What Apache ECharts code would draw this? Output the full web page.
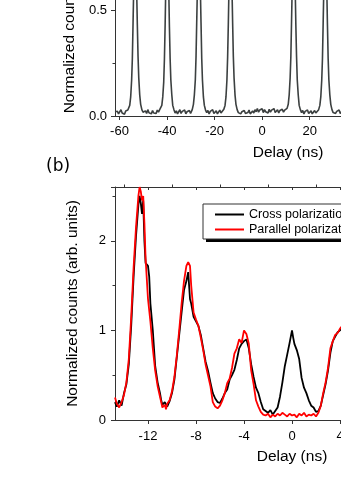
<!DOCTYPE html>
<html>
<head>
<meta charset="utf-8">
<script src="https://cdn.jsdelivr.net/npm/echarts@6/dist/echarts.min.js"></script>
<style>
html, body { margin: 0; padding: 0; background: #fff; }
#divChart { width: 341px; height: 481px; }
</style>
</head>
<body>
<div id="divChart"></div>
<script>
// panel (a): wide delay histogram, [delay ns, counts]
var arrPanelA = [
    [-61.9,0.02],[-61.4,0.012],[-60.9,0.022],[-60.4,0.01],[-59.9,0.018],[-59.4,0.03],[-58.9,0.014],[-58.4,0.02],[-57.9,0.008],[-57.4,0.024],[-56.9,0.016],[-56.5,0.028],
    [-56.2,0.03],[-55.7,0.05],[-55.3,0.09],[-54.9,0.17],[-54.6,0.27],[-54.3,0.44],[-54.0,0.62],[-53.7,0.84],[-53.4,0.98],[-53.1,0.83],[-52.8,0.6],[-52.5,0.43],[-52.2,0.28],[-51.9,0.18],[-51.5,0.1],[-51.1,0.055],[-50.6,0.03],
    [-50.1,0.018],[-49.6,0.01],[-49.1,0.024],[-48.6,0.012],[-48.1,0.03],[-47.6,0.015],[-47.1,0.022],[-46.6,0.01],[-46.1,0.026],[-45.6,0.014],[-45.1,0.02],[-44.6,0.012],[-44.1,0.028],[-43.6,0.018],[-43.1,0.03],
    [-42.7,0.032],[-42.2,0.05],[-41.8,0.09],[-41.4,0.16],[-41.1,0.27],[-40.8,0.43],[-40.5,0.63],[-40.2,0.85],[-39.9,1.0],[-39.6,0.82],[-39.3,0.61],[-39.0,0.42],[-38.7,0.27],[-38.4,0.17],[-38.0,0.1],[-37.6,0.05],[-37.1,0.03],
    [-36.6,0.014],[-36.1,0.024],[-35.6,0.01],[-35.1,0.02],[-34.6,0.03],[-34.1,0.012],[-33.6,0.022],[-33.1,0.015],[-32.6,0.028],[-32.1,0.01],[-31.6,0.02],[-31.1,0.016],[-30.6,0.026],[-30.1,0.012],
    [-29.4,0.03],[-28.9,0.055],[-28.5,0.1],[-28.1,0.17],[-27.8,0.28],[-27.5,0.45],[-27.2,0.62],[-26.9,0.83],[-26.6,0.97],[-26.3,0.84],[-26.0,0.61],[-25.7,0.44],[-25.4,0.27],[-25.1,0.17],[-24.7,0.09],[-24.3,0.05],[-23.8,0.028],
    [-23.3,0.016],[-22.8,0.026],[-22.3,0.01],[-21.8,0.022],[-21.3,0.014],[-20.8,0.03],[-20.3,0.012],[-19.8,0.02],[-19.3,0.024],[-18.8,0.01],[-18.3,0.018],[-17.8,0.028],[-17.3,0.014],[-16.8,0.022],
    [-16.1,0.032],[-15.6,0.05],[-15.2,0.09],[-14.8,0.17],[-14.5,0.28],[-14.2,0.44],[-13.9,0.63],[-13.6,0.84],[-13.3,0.99],[-13.0,0.85],[-12.7,0.62],[-12.4,0.44],[-12.1,0.28],[-11.8,0.18],[-11.4,0.1],[-11.0,0.055],[-10.5,0.03],
    [-10.0,0.016],[-9.5,0.024],[-9.0,0.01],[-8.5,0.02],[-8.0,0.014],[-7.5,0.026],[-7.0,0.012],[-6.5,0.02],[-6.0,0.016],[-5.5,0.028],[-5.0,0.01],[-4.5,0.018],[-4.0,0.024],[-3.5,0.014],[-3.0,0.03],[-2.5,0.02],[-2.0,0.035],[-1.5,0.018],[-1.0,0.028],[-0.5,0.022],
    [0.0,0.034],[0.5,0.016],[1.0,0.03],[1.5,0.02],[2.0,0.026],[2.5,0.014],[3.0,0.032],[3.5,0.018],[4.0,0.028],[4.5,0.02],[5.0,0.035],[5.5,0.016],[6.0,0.024],[6.5,0.03],[7.0,0.014],[7.5,0.026],[8.0,0.02],[8.5,0.032],[9.0,0.018],[9.5,0.028],[10.0,0.03],
    [10.5,0.036],[11.0,0.055],[11.4,0.1],[11.8,0.18],[12.1,0.28],[12.4,0.45],[12.7,0.63],[13.0,0.84],[13.3,0.99],[13.6,0.85],[13.9,0.62],[14.2,0.43],[14.5,0.28],[14.8,0.17],[15.2,0.1],[15.6,0.05],[16.1,0.03],
    [16.6,0.016],[17.1,0.026],[17.6,0.01],[18.1,0.022],[18.6,0.014],[19.1,0.028],[19.6,0.012],[20.1,0.02],[20.6,0.024],[21.1,0.01],[21.6,0.018],[22.1,0.026],[22.6,0.014],[23.1,0.022],
    [23.8,0.03],[24.3,0.05],[24.7,0.09],[25.1,0.17],[25.4,0.27],[25.7,0.44],[26.0,0.62],[26.3,0.84],[26.6,0.98],[26.9,0.83],[27.2,0.61],[27.5,0.43],[27.8,0.27],[28.1,0.17],[28.5,0.1],[28.9,0.055],[29.4,0.03],
    [29.9,0.016],[30.4,0.024],[30.9,0.012],[31.4,0.022],[31.9,0.018],[32.4,0.028],[32.9,0.012],[33.4,0.02],[33.9,0.026],[34.4,0.014],[34.9,0.022],[35.4,0.016],[35.9,0.028],[36.4,0.02],
    [37.1,0.03],[37.6,0.05],[38.0,0.1],[38.4,0.17],[38.7,0.28],[39.0,0.44],[39.3,0.62],[39.6,0.84],[39.9,0.98],[40.2,0.83],[40.5,0.6],[40.8,0.43],[41.1,0.27],[41.4,0.17],[41.8,0.1],[42.2,0.05],[42.7,0.03],[43.2,0.018]
];

// panel (b): zoom on the central peaks
var arrCross = [
    [-14.75,0.2],[-14.6,0.15],[-14.4,0.22],[-14.2,0.16],[-14.0,0.3],[-13.8,0.4],[-13.6,0.62],[-13.4,1.05],[-13.2,1.6],[-13.0,2.05],[-12.8,2.4],[-12.7,2.5],[-12.6,2.42],[-12.5,2.3],[-12.4,2.45],[-12.3,2.0],[-12.2,1.75],[-12.0,1.72],[-11.9,1.6],[-11.8,1.3],
    [-11.6,1.0],[-11.4,0.6],[-11.2,0.42],[-11.0,0.3],[-10.9,0.22],[-10.8,0.17],[-10.6,0.2],[-10.4,0.15],[-10.2,0.21],[-10.0,0.3],[-9.8,0.45],[-9.6,0.7],[-9.4,0.95],[-9.2,1.2],[-9.0,1.45],[-8.8,1.55],[-8.65,1.65],[-8.5,1.35],[-8.4,1.3],[-8.2,1.15],
    [-8.0,1.1],[-7.8,1.05],[-7.6,0.95],[-7.4,0.8],[-7.2,0.65],[-7.0,0.55],[-6.8,0.42],[-6.6,0.3],[-6.4,0.24],[-6.2,0.2],[-6.0,0.19],[-5.8,0.24],[-5.6,0.3],[-5.4,0.34],[-5.2,0.45],[-5.0,0.5],[-4.8,0.56],[-4.6,0.67],[-4.4,0.8],[-4.2,0.85],
    [-4.0,0.88],[-3.8,0.9],[-3.6,0.8],[-3.4,0.62],[-3.2,0.48],[-3.0,0.36],[-2.8,0.3],[-2.6,0.2],[-2.4,0.12],[-2.2,0.1],[-2.0,0.08],[-1.8,0.11],[-1.6,0.06],[-1.4,0.1],[-1.2,0.14],[-1.0,0.26],[-0.8,0.42],[-0.6,0.6],[-0.4,0.73],[-0.2,0.86],
    [0.0,1.0],[0.1,0.92],[0.2,0.85],[0.4,0.78],[0.6,0.68],[0.8,0.47],[1.0,0.36],[1.2,0.3],[1.4,0.22],[1.6,0.16],[1.8,0.14],[2.0,0.09],[2.2,0.1],[2.4,0.16],[2.6,0.28],[2.8,0.4],[3.0,0.55],[3.2,0.75],[3.4,0.88],[3.6,0.93],
    [3.8,0.98],[4.0,1.0],[4.2,1.03],[4.4,1.0],[4.6,0.95]
];
var arrParallel = [
    [-14.75,0.25],[-14.6,0.18],[-14.4,0.14],[-14.2,0.2],[-14.0,0.28],[-13.8,0.42],[-13.6,0.68],[-13.4,1.15],[-13.2,1.7],[-13.0,2.15],[-12.8,2.5],[-12.7,2.6],[-12.6,2.55],[-12.5,2.45],[-12.4,2.5],[-12.3,2.2],[-12.2,1.8],[-12.0,1.35],[-11.8,1.1],[-11.6,0.8],
    [-11.4,0.55],[-11.2,0.38],[-11.0,0.26],[-10.9,0.2],[-10.8,0.14],[-10.6,0.17],[-10.5,0.12],[-10.4,0.18],[-10.2,0.22],[-10.0,0.32],[-9.8,0.48],[-9.6,0.72],[-9.4,1.0],[-9.2,1.3],[-9.0,1.55],[-8.8,1.72],[-8.65,1.76],[-8.5,1.72],[-8.4,1.5],[-8.2,1.2],
    [-8.0,1.12],[-7.8,1.05],[-7.6,0.92],[-7.4,0.78],[-7.2,0.62],[-7.0,0.5],[-6.8,0.38],[-6.6,0.2],[-6.4,0.15],[-6.2,0.13],[-6.0,0.16],[-5.8,0.22],[-5.6,0.3],[-5.4,0.41],[-5.2,0.46],[-5.0,0.58],[-4.8,0.74],[-4.6,0.8],[-4.4,0.9],[-4.2,0.86],
    [-4.0,1.0],[-3.8,0.96],[-3.6,0.85],[-3.4,0.55],[-3.2,0.4],[-3.0,0.22],[-2.8,0.15],[-2.6,0.09],[-2.4,0.06],[-2.2,0.05],[-2.0,0.07],[-1.8,0.03],[-1.6,0.06],[-1.4,0.04],[-1.2,0.07],[-1.0,0.05],[-0.8,0.08],[-0.6,0.06],[-0.4,0.04],[-0.2,0.07],
    [0.0,0.05],[0.2,0.06],[0.4,0.03],[0.6,0.07],[0.8,0.05],[1.0,0.08],[1.2,0.04],[1.4,0.06],[1.6,0.05],[1.8,0.07],[2.0,0.04],[2.2,0.08],[2.4,0.16],[2.6,0.3],[2.8,0.42],[3.0,0.58],[3.2,0.8],[3.4,0.88],[3.6,0.95],[3.8,0.97],
    [4.0,1.02],[4.2,1.05],[4.4,1.02],[4.6,0.96]
];

var arrTicksA = [-60, -40, -20, 0, 20, 40, 60, 80];
var arrMinorA = [-50, -30, -10, 10, 30, 50, 70];
var arrTicksB = [-12, -8, -4, 0, 4, 8, 12];
var arrMinorB = [-14, -10, -6, -2, 2, 6, 10, 14];
var arrNames = ['Cross polarization', 'Parallel polarization'];

var strFont = 'Liberation Sans, Arial, sans-serif';
var strAxis = '#333';
var chartMain = echarts.init(document.getElementById('divChart'));

var optMain = {
    animation: false,
    backgroundColor: '#fff',
    title: {
        text: '(b)',
        left: 46,
        top: 158,
        padding: 0,
        textStyle: { fontFamily: 'DejaVu Sans', fontSize: 17, fontWeight: 'normal', color: '#000' }
    },
    // drop shadow behind the legend box
    graphic: [{
        type: 'rect', z: 1,
        shape: { x: 206, y: 208, width: 200, height: 34 },
        style: { fill: '#000' }
    }],
    legend: {
        data: arrNames,
        orient: 'vertical',
        left: 203,
        top: 204,
        padding: [4, 6, 3, 12],
        itemGap: 2,
        itemWidth: 29,
        itemHeight: 2,
        icon: 'rect',
        backgroundColor: '#fff',
        borderColor: '#333',
        borderWidth: 1,
        z: 5,
        textStyle: { fontFamily: strFont, fontSize: 12.5, color: '#000' }
    },
    grid: [
        { left: 115, top: -96, width: 346, height: 212, outerBoundsMode: 'none' },
        { left: 115, top: 187, width: 354, height: 233, outerBoundsMode: 'none' }
    ],
    xAxis: [
        {
            type: 'value', gridIndex: 0, min: -61.9, max: 83.7,
            name: 'Delay (ns)', nameLocation: 'middle', nameGap: 29,
            nameTextStyle: { fontFamily: strFont, fontSize: 15.5, color: '#000' },
            axisLine: { onZero: false, lineStyle: { color: strAxis, width: 1 } },
            axisTick: { customValues: arrTicksA, length: 4, lineStyle: { color: strAxis } },
            axisLabel: { customValues: arrTicksA, margin: 9, fontFamily: strFont, fontSize: 13, color: '#000' },
            splitLine: { show: false }
        },
        {
            type: 'value', gridIndex: 0, min: -61.9, max: 83.7,
            axisLine: { show: false, onZero: false },
            axisTick: { customValues: arrMinorA, length: 2.5, lineStyle: { color: strAxis } },
            axisLabel: { show: false },
            splitLine: { show: false }
        },
        {
            type: 'value', gridIndex: 1, min: -14.75, max: 14.75,
            name: 'Delay (ns)', nameLocation: 'middle', nameGap: 29,
            nameTextStyle: { fontFamily: strFont, fontSize: 15.5, color: '#000' },
            axisLine: { onZero: false, lineStyle: { color: strAxis, width: 1 } },
            axisTick: { customValues: arrTicksB, length: 4, lineStyle: { color: strAxis } },
            axisLabel: { customValues: arrTicksB, margin: 10, fontFamily: strFont, fontSize: 13, color: '#000' },
            splitLine: { show: false }
        },
        {
            type: 'value', gridIndex: 1, min: -14.75, max: 14.75,
            axisLine: { show: false, onZero: false },
            axisTick: { customValues: arrMinorB, length: 2.5, lineStyle: { color: strAxis } },
            axisLabel: { show: false },
            splitLine: { show: false }
        },
        {
            type: 'value', gridIndex: 1, min: -14.75, max: 14.75, position: 'top',
            axisLine: { onZero: false, lineStyle: { color: strAxis, width: 1 } },
            axisTick: { customValues: arrTicksB, inside: true, length: 3, lineStyle: { color: strAxis } },
            axisLabel: { show: false },
            splitLine: { show: false }
        }
    ],
    yAxis: [
        {
            type: 'value', gridIndex: 0, min: 0, max: 1, interval: 0.5,
            name: 'Normalized counts (arb. units)', nameLocation: 'middle', nameGap: 34,
            nameTextStyle: { fontFamily: strFont, fontSize: 15.5, color: '#000' },
            axisLine: { show: true, onZero: false, lineStyle: { color: strAxis, width: 1 } },
            axisTick: { show: true, length: 4, lineStyle: { color: strAxis } },
            minorTick: { show: true, splitNumber: 2, length: 2.5, lineStyle: { color: strAxis } },
            axisLabel: {
                margin: 8, fontFamily: strFont, fontSize: 13, color: '#000',
                formatter: function(v) { return v.toFixed(1); }
            },
            splitLine: { show: false }
        },
        {
            type: 'value', gridIndex: 1, min: 0, max: 2.6, interval: 1,
            name: 'Normalized counts (arb. units)', nameLocation: 'middle', nameGap: 34,
            nameTextStyle: { fontFamily: strFont, fontSize: 15.5, color: '#000' },
            axisLine: { show: true, onZero: false, lineStyle: { color: strAxis, width: 1 } },
            axisTick: { show: true, length: 4, lineStyle: { color: strAxis } },
            minorTick: { show: true, splitNumber: 2, length: 2.5, lineStyle: { color: strAxis } },
            axisLabel: { margin: 9, showMaxLabel: false, fontFamily: strFont, fontSize: 13, color: '#000' },
            splitLine: { show: false }
        }
    ],
    series: [
        {
            name: 'Panel a', type: 'line', xAxisIndex: 0, yAxisIndex: 0,
            data: arrPanelA, symbol: 'none', clip: true,
            lineStyle: { color: '#3c4040', width: 1.6 }
        },
        {
            name: arrNames[0], type: 'line', xAxisIndex: 2, yAxisIndex: 1,
            data: arrCross, symbol: 'none', clip: true,
            itemStyle: { color: '#000' },
            lineStyle: { color: '#000', width: 1.8 }
        },
        {
            name: arrNames[1], type: 'line', xAxisIndex: 2, yAxisIndex: 1,
            data: arrParallel, symbol: 'none', clip: true,
            itemStyle: { color: '#ff0000' },
            lineStyle: { color: '#ff0000', width: 1.8 }
        }
    ]
};
chartMain.setOption(optMain);
</script>
</body>
</html>
